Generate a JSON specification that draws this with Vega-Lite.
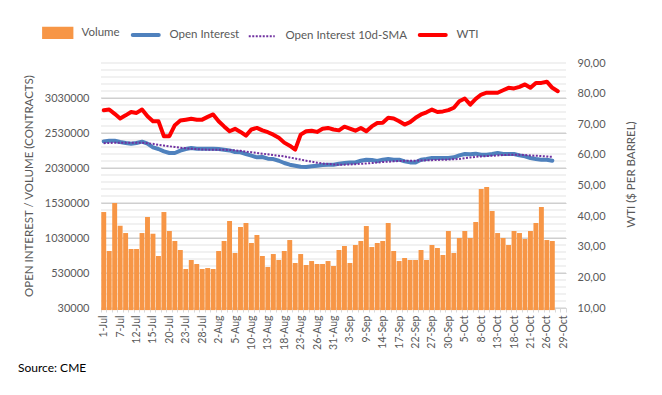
{
  "$schema": "https://vega.github.io/schema/vega-lite/v6.json",
  "width": 465,
  "height": 245,
  "autosize": {"type": "none"},
  "padding": {"left": 101, "top": 63, "right": 96, "bottom": 87},
  "background": "#ffffff",
  "config": {
    "font": "Lato",
    "view": {"stroke": null},
    "scale": {"paddingInner": 0.27, "paddingOuter": 0.135},
    "axis": {"labelColor": "#595959", "titleColor": "#595959", "labelFont": "Lato", "titleFont": "Lato"},
    "axisX": {"labelAngle": 270, "labelOverlap": false, "labelFontSize": 10.5, "labelPadding": 3, "tickBand": "extent", "ticks": true, "tickSize": 4, "tickColor": "#D9D9D9", "domain": true, "domainColor": "#D9D9D9", "grid": false}
  },
  "title": {"text": "Source: CME", "orient": "bottom", "anchor": "start", "frame": "group", "dx": -83, "offset": 14, "fontSize": 12, "fontWeight": "normal", "color": "#000000", "font": "Lato"},
  "datasets": {
    "main": [
      {"d":"1-Jul","vol":1401000,"oi":2410000,"sma":2385000,"wti":74.6},
      {"d":"2-Jul","vol":844000,"oi":2420000,"sma":2388000,"wti":74.8},
      {"d":"6-Jul","vol":1530000,"oi":2420000,"sma":2390000,"wti":73.4},
      {"d":"7-Jul","vol":1206000,"oi":2401000,"sma":2392000,"wti":71.9},
      {"d":"8-Jul","vol":1101000,"oi":2387000,"sma":2392000,"wti":72.9},
      {"d":"9-Jul","vol":873000,"oi":2377000,"sma":2390000,"wti":74.0},
      {"d":"12-Jul","vol":873000,"oi":2387000,"sma":2390000,"wti":73.7},
      {"d":"13-Jul","vol":1101000,"oi":2406000,"sma":2390000,"wti":74.8},
      {"d":"14-Jul","vol":1330000,"oi":2377000,"sma":2385000,"wti":72.6},
      {"d":"15-Jul","vol":1091000,"oi":2324000,"sma":2375000,"wti":71.0},
      {"d":"16-Jul","vol":773000,"oi":2301000,"sma":2360000,"wti":71.0},
      {"d":"19-Jul","vol":1401000,"oi":2267000,"sma":2350000,"wti":66.1},
      {"d":"20-Jul","vol":1130000,"oi":2244000,"sma":2340000,"wti":66.1},
      {"d":"21-Jul","vol":987000,"oi":2244000,"sma":2330000,"wti":69.7},
      {"d":"22-Jul","vol":859000,"oi":2277000,"sma":2320000,"wti":71.2},
      {"d":"23-Jul","vol":587000,"oi":2301000,"sma":2312000,"wti":71.5},
      {"d":"26-Jul","vol":716000,"oi":2316000,"sma":2305000,"wti":71.8},
      {"d":"27-Jul","vol":659000,"oi":2306000,"sma":2300000,"wti":71.5},
      {"d":"28-Jul","vol":587000,"oi":2306000,"sma":2295000,"wti":71.5},
      {"d":"29-Jul","vol":601000,"oi":2306000,"sma":2292000,"wti":72.4},
      {"d":"30-Jul","vol":587000,"oi":2306000,"sma":2290000,"wti":73.2},
      {"d":"2-Aug","vol":844000,"oi":2301000,"sma":2290000,"wti":71.0},
      {"d":"3-Aug","vol":987000,"oi":2291000,"sma":2290000,"wti":69.3},
      {"d":"4-Aug","vol":1273000,"oi":2281000,"sma":2288000,"wti":67.7},
      {"d":"5-Aug","vol":816000,"oi":2259000,"sma":2282000,"wti":68.5},
      {"d":"6-Aug","vol":1187000,"oi":2254000,"sma":2275000,"wti":67.5},
      {"d":"9-Aug","vol":1244000,"oi":2230000,"sma":2265000,"wti":66.3},
      {"d":"10-Aug","vol":959000,"oi":2206000,"sma":2255000,"wti":68.3},
      {"d":"11-Aug","vol":1073000,"oi":2182000,"sma":2245000,"wti":68.8},
      {"d":"12-Aug","vol":773000,"oi":2187000,"sma":2235000,"wti":68.0},
      {"d":"13-Aug","vol":616000,"oi":2163000,"sma":2225000,"wti":67.4},
      {"d":"16-Aug","vol":801000,"oi":2158000,"sma":2215000,"wti":66.6},
      {"d":"17-Aug","vol":716000,"oi":2134000,"sma":2205000,"wti":65.6},
      {"d":"18-Aug","vol":844000,"oi":2101000,"sma":2195000,"wti":64.0},
      {"d":"19-Aug","vol":1001000,"oi":2077000,"sma":2180000,"wti":63.0},
      {"d":"20-Aug","vol":673000,"oi":2063000,"sma":2165000,"wti":61.7},
      {"d":"23-Aug","vol":801000,"oi":2049000,"sma":2150000,"wti":66.6},
      {"d":"24-Aug","vol":644000,"oi":2044000,"sma":2135000,"wti":67.7},
      {"d":"25-Aug","vol":701000,"oi":2054000,"sma":2120000,"wti":67.9},
      {"d":"26-Aug","vol":659000,"oi":2063000,"sma":2105000,"wti":67.5},
      {"d":"27-Aug","vol":659000,"oi":2073000,"sma":2095000,"wti":68.5},
      {"d":"30-Aug","vol":701000,"oi":2077000,"sma":2088000,"wti":68.8},
      {"d":"31-Aug","vol":630000,"oi":2077000,"sma":2080000,"wti":68.3},
      {"d":"1-Sep","vol":859000,"oi":2091000,"sma":2078000,"wti":68.0},
      {"d":"2-Sep","vol":916000,"oi":2101000,"sma":2078000,"wti":69.2},
      {"d":"3-Sep","vol":673000,"oi":2110000,"sma":2080000,"wti":68.6},
      {"d":"7-Sep","vol":930000,"oi":2110000,"sma":2085000,"wti":67.9},
      {"d":"8-Sep","vol":987000,"oi":2134000,"sma":2090000,"wti":68.8},
      {"d":"9-Sep","vol":1201000,"oi":2149000,"sma":2095000,"wti":67.7},
      {"d":"10-Sep","vol":901000,"oi":2144000,"sma":2100000,"wti":69.3},
      {"d":"13-Sep","vol":959000,"oi":2130000,"sma":2108000,"wti":70.4},
      {"d":"14-Sep","vol":987000,"oi":2149000,"sma":2115000,"wti":70.5},
      {"d":"15-Sep","vol":1244000,"oi":2158000,"sma":2120000,"wti":72.1},
      {"d":"16-Sep","vol":844000,"oi":2149000,"sma":2125000,"wti":71.9},
      {"d":"17-Sep","vol":701000,"oi":2149000,"sma":2130000,"wti":71.0},
      {"d":"20-Sep","vol":744000,"oi":2125000,"sma":2132000,"wti":69.9},
      {"d":"21-Sep","vol":716000,"oi":2110000,"sma":2133000,"wti":70.7},
      {"d":"22-Sep","vol":716000,"oi":2110000,"sma":2135000,"wti":72.1},
      {"d":"23-Sep","vol":859000,"oi":2149000,"sma":2137000,"wti":73.2},
      {"d":"24-Sep","vol":716000,"oi":2158000,"sma":2140000,"wti":73.9},
      {"d":"27-Sep","vol":930000,"oi":2173000,"sma":2142000,"wti":74.8},
      {"d":"28-Sep","vol":887000,"oi":2173000,"sma":2145000,"wti":74.0},
      {"d":"29-Sep","vol":787000,"oi":2173000,"sma":2148000,"wti":74.2},
      {"d":"30-Sep","vol":1130000,"oi":2173000,"sma":2150000,"wti":74.6},
      {"d":"1-Oct","vol":816000,"oi":2182000,"sma":2155000,"wti":75.4},
      {"d":"4-Oct","vol":1030000,"oi":2210000,"sma":2160000,"wti":77.5},
      {"d":"5-Oct","vol":1130000,"oi":2230000,"sma":2170000,"wti":78.4},
      {"d":"6-Oct","vol":1030000,"oi":2228000,"sma":2180000,"wti":76.4},
      {"d":"7-Oct","vol":1259000,"oi":2235000,"sma":2190000,"wti":78.3},
      {"d":"8-Oct","vol":1730000,"oi":2220000,"sma":2196000,"wti":79.7},
      {"d":"11-Oct","vol":1759000,"oi":2220000,"sma":2200000,"wti":80.3},
      {"d":"12-Oct","vol":1416000,"oi":2230000,"sma":2205000,"wti":80.3},
      {"d":"13-Oct","vol":1101000,"oi":2244000,"sma":2210000,"wti":80.3},
      {"d":"14-Oct","vol":1030000,"oi":2230000,"sma":2215000,"wti":81.1},
      {"d":"15-Oct","vol":930000,"oi":2230000,"sma":2218000,"wti":81.9},
      {"d":"18-Oct","vol":1130000,"oi":2230000,"sma":2220000,"wti":81.7},
      {"d":"19-Oct","vol":1101000,"oi":2210000,"sma":2220000,"wti":82.2},
      {"d":"20-Oct","vol":1016000,"oi":2196000,"sma":2215000,"wti":83.0},
      {"d":"21-Oct","vol":1130000,"oi":2173000,"sma":2210000,"wti":81.9},
      {"d":"22-Oct","vol":1244000,"oi":2158000,"sma":2205000,"wti":83.5},
      {"d":"25-Oct","vol":1473000,"oi":2149000,"sma":2200000,"wti":83.5},
      {"d":"26-Oct","vol":1001000,"oi":2149000,"sma":2195000,"wti":83.9},
      {"d":"27-Oct","vol":987000,"oi":2134000,"sma":2190000,"wti":81.9},
      {"d":"28-Oct","wti":80.8}
    ],
    "gridMinor": [
      {"g":130000},{"g":230000},{"g":330000},{"g":430000},{"g":630000},{"g":730000},{"g":830000},{"g":930000},
      {"g":1130000},{"g":1230000},{"g":1330000},{"g":1430000},{"g":1630000},{"g":1730000},{"g":1830000},{"g":1930000},
      {"g":2130000},{"g":2230000},{"g":2330000},{"g":2430000},{"g":2630000},{"g":2730000},{"g":2830000},{"g":2930000},
      {"g":3130000},{"g":3230000},{"g":3330000},{"g":3430000},{"g":3530000}
    ],
    "gridMajor": [
      {"g":30000},{"g":530000},{"g":1030000},{"g":1530000},{"g":2030000},{"g":2530000},{"g":3030000}
    ]
  },
  "data": {"name": "main"},
  "layer": [
    {
      "encoding": {
        "y": {
          "type": "quantitative",
          "scale": {"domain": [30000, 3530000], "nice": false, "zero": false},
          "axis": {
            "title": "OPEN INTEREST / VOLUME (CONTRACTS)",
            "titleFontSize": 11.5, "titleFontWeight": "normal", "titlePadding": 10,
            "values": [30000,530000,1030000,1530000,2030000,2530000,3030000],
            "format": "d",
            "labelFontSize": 11,
            "labelPadding": 12,
            "labelOverlap": false,
            "labelBound": false,
            "ticks": false,
            "domain": false,
            "grid": true,
            "gridColor": "#CFCFCF"
          }
        }
      },
      "layer": [
        {
          "data": {"name": "gridMinor"},
          "mark": {"type": "rule", "color": "#E3E3E3", "strokeWidth": 1},
          "encoding": {"y": {"field": "g"}}
        },
        {
          "data": {"name": "gridMajor"},
          "mark": {"type": "rule", "color": "#CFCFCF", "strokeWidth": 1},
          "encoding": {"y": {"field": "g"}}
        },
        {
          "mark": {"type": "bar", "color": "#F79646"},
          "encoding": {
            "x": {
              "field": "d", "type": "ordinal",
              "scale": {"domain": ["1-Jul","2-Jul","6-Jul","7-Jul","8-Jul","9-Jul","12-Jul","13-Jul","14-Jul","15-Jul","16-Jul","19-Jul","20-Jul","21-Jul","22-Jul","23-Jul","26-Jul","27-Jul","28-Jul","29-Jul","30-Jul","2-Aug","3-Aug","4-Aug","5-Aug","6-Aug","9-Aug","10-Aug","11-Aug","12-Aug","13-Aug","16-Aug","17-Aug","18-Aug","19-Aug","20-Aug","23-Aug","24-Aug","25-Aug","26-Aug","27-Aug","30-Aug","31-Aug","1-Sep","2-Sep","3-Sep","7-Sep","8-Sep","9-Sep","10-Sep","13-Sep","14-Sep","15-Sep","16-Sep","17-Sep","20-Sep","21-Sep","22-Sep","23-Sep","24-Sep","27-Sep","28-Sep","29-Sep","30-Sep","1-Oct","4-Oct","5-Oct","6-Oct","7-Oct","8-Oct","11-Oct","12-Oct","13-Oct","14-Oct","15-Oct","18-Oct","19-Oct","20-Oct","21-Oct","22-Oct","25-Oct","26-Oct","27-Oct","28-Oct","29-Oct"]},
              "axis": {"title": null, "labelExpr": "indexof(['1-Jul','7-Jul','12-Jul','15-Jul','20-Jul','23-Jul','28-Jul','2-Aug','5-Aug','10-Aug','13-Aug','18-Aug','23-Aug','26-Aug','31-Aug','3-Sep','9-Sep','14-Sep','17-Sep','22-Sep','27-Sep','30-Sep','5-Oct','8-Oct','13-Oct','18-Oct','21-Oct','26-Oct','29-Oct'], datum.value) >= 0 ? datum.value : ''"}
            },
            "y": {"field": "vol"},
            "color": {
              "datum": "Volume", "type": "nominal",
              "scale": {"domain": ["Volume", "Open Interest", "Open Interest 10d-SMA", "WTI"], "range": ["#F79646", "#4F81BD", "#7030A0", "#FF0000"]},
              "legend": {
                "title": null,
                "orient": "none",
                "direction": "horizontal",
                "legendX": -49,
                "legendY": -36,
                "padding": 0,
                "labelFontSize": 11.5,
                "labelColor": "#595959",
                "labelFont": "Lato",
                "symbolSize": 676,
                "labelOffset": 18,
                "columnPadding": 4,
                "encode": {
                  "symbols": {
                    "update": {
                      "shape": {"signal": "datum.value === 'Volume' ? 'M-1.05,-0.31H1.05V0.31H-1.05Z' : 'stroke'"},
                      "fill": {"signal": "datum.value === 'Volume' ? '#F79646' : 'transparent'"},
                      "stroke": {"signal": "datum.value === 'Volume' ? 'transparent' : datum.value === 'Open Interest' ? '#4F81BD' : datum.value === 'WTI' ? '#FF0000' : '#7030A0'"},
                      "strokeWidth": {"signal": "datum.value === 'Open Interest 10d-SMA' ? 2 : 4"},
                      "strokeDash": {"signal": "datum.value === 'Open Interest 10d-SMA' ? [2, 1.5] : [1, 0]"},
                      "strokeCap": {"signal": "datum.value === 'Open Interest 10d-SMA' ? 'butt' : 'round'"},
                      "opacity": {"value": 1}
                    }
                  }
                }
              }
            }
          }
        },
        {
          "mark": {"type": "line", "color": "#4F81BD", "strokeWidth": 4, "strokeJoin": "round", "strokeCap": "round"},
          "encoding": {
            "x": {
              "field": "d", "type": "ordinal",
              "scale": {"domain": ["1-Jul","2-Jul","6-Jul","7-Jul","8-Jul","9-Jul","12-Jul","13-Jul","14-Jul","15-Jul","16-Jul","19-Jul","20-Jul","21-Jul","22-Jul","23-Jul","26-Jul","27-Jul","28-Jul","29-Jul","30-Jul","2-Aug","3-Aug","4-Aug","5-Aug","6-Aug","9-Aug","10-Aug","11-Aug","12-Aug","13-Aug","16-Aug","17-Aug","18-Aug","19-Aug","20-Aug","23-Aug","24-Aug","25-Aug","26-Aug","27-Aug","30-Aug","31-Aug","1-Sep","2-Sep","3-Sep","7-Sep","8-Sep","9-Sep","10-Sep","13-Sep","14-Sep","15-Sep","16-Sep","17-Sep","20-Sep","21-Sep","22-Sep","23-Sep","24-Sep","27-Sep","28-Sep","29-Sep","30-Sep","1-Oct","4-Oct","5-Oct","6-Oct","7-Oct","8-Oct","11-Oct","12-Oct","13-Oct","14-Oct","15-Oct","18-Oct","19-Oct","20-Oct","21-Oct","22-Oct","25-Oct","26-Oct","27-Oct","28-Oct","29-Oct"]},
              "axis": {"title": null, "labelExpr": "indexof(['1-Jul','7-Jul','12-Jul','15-Jul','20-Jul','23-Jul','28-Jul','2-Aug','5-Aug','10-Aug','13-Aug','18-Aug','23-Aug','26-Aug','31-Aug','3-Sep','9-Sep','14-Sep','17-Sep','22-Sep','27-Sep','30-Sep','5-Oct','8-Oct','13-Oct','18-Oct','21-Oct','26-Oct','29-Oct'], datum.value) >= 0 ? datum.value : ''"}
            },
            "y": {"field": "oi"},
            "color": {"datum": "Open Interest", "type": "nominal"}
          }
        },
        {
          "mark": {"type": "line", "color": "#7030A0", "strokeWidth": 2, "strokeDash": [2, 1.5]},
          "encoding": {
            "x": {
              "field": "d", "type": "ordinal",
              "scale": {"domain": ["1-Jul","2-Jul","6-Jul","7-Jul","8-Jul","9-Jul","12-Jul","13-Jul","14-Jul","15-Jul","16-Jul","19-Jul","20-Jul","21-Jul","22-Jul","23-Jul","26-Jul","27-Jul","28-Jul","29-Jul","30-Jul","2-Aug","3-Aug","4-Aug","5-Aug","6-Aug","9-Aug","10-Aug","11-Aug","12-Aug","13-Aug","16-Aug","17-Aug","18-Aug","19-Aug","20-Aug","23-Aug","24-Aug","25-Aug","26-Aug","27-Aug","30-Aug","31-Aug","1-Sep","2-Sep","3-Sep","7-Sep","8-Sep","9-Sep","10-Sep","13-Sep","14-Sep","15-Sep","16-Sep","17-Sep","20-Sep","21-Sep","22-Sep","23-Sep","24-Sep","27-Sep","28-Sep","29-Sep","30-Sep","1-Oct","4-Oct","5-Oct","6-Oct","7-Oct","8-Oct","11-Oct","12-Oct","13-Oct","14-Oct","15-Oct","18-Oct","19-Oct","20-Oct","21-Oct","22-Oct","25-Oct","26-Oct","27-Oct","28-Oct","29-Oct"]},
              "axis": {"title": null, "labelExpr": "indexof(['1-Jul','7-Jul','12-Jul','15-Jul','20-Jul','23-Jul','28-Jul','2-Aug','5-Aug','10-Aug','13-Aug','18-Aug','23-Aug','26-Aug','31-Aug','3-Sep','9-Sep','14-Sep','17-Sep','22-Sep','27-Sep','30-Sep','5-Oct','8-Oct','13-Oct','18-Oct','21-Oct','26-Oct','29-Oct'], datum.value) >= 0 ? datum.value : ''"}
            },
            "y": {"field": "sma"},
            "color": {"datum": "Open Interest 10d-SMA", "type": "nominal"}
          }
        }
      ]
    },
    {
      "mark": {"type": "line", "color": "#FF0000", "strokeWidth": 4, "strokeJoin": "round", "strokeCap": "round"},
      "encoding": {
        "x": {
          "field": "d", "type": "ordinal",
          "scale": {"domain": ["1-Jul","2-Jul","6-Jul","7-Jul","8-Jul","9-Jul","12-Jul","13-Jul","14-Jul","15-Jul","16-Jul","19-Jul","20-Jul","21-Jul","22-Jul","23-Jul","26-Jul","27-Jul","28-Jul","29-Jul","30-Jul","2-Aug","3-Aug","4-Aug","5-Aug","6-Aug","9-Aug","10-Aug","11-Aug","12-Aug","13-Aug","16-Aug","17-Aug","18-Aug","19-Aug","20-Aug","23-Aug","24-Aug","25-Aug","26-Aug","27-Aug","30-Aug","31-Aug","1-Sep","2-Sep","3-Sep","7-Sep","8-Sep","9-Sep","10-Sep","13-Sep","14-Sep","15-Sep","16-Sep","17-Sep","20-Sep","21-Sep","22-Sep","23-Sep","24-Sep","27-Sep","28-Sep","29-Sep","30-Sep","1-Oct","4-Oct","5-Oct","6-Oct","7-Oct","8-Oct","11-Oct","12-Oct","13-Oct","14-Oct","15-Oct","18-Oct","19-Oct","20-Oct","21-Oct","22-Oct","25-Oct","26-Oct","27-Oct","28-Oct","29-Oct"]},
          "axis": {"title": null, "labelExpr": "indexof(['1-Jul','7-Jul','12-Jul','15-Jul','20-Jul','23-Jul','28-Jul','2-Aug','5-Aug','10-Aug','13-Aug','18-Aug','23-Aug','26-Aug','31-Aug','3-Sep','9-Sep','14-Sep','17-Sep','22-Sep','27-Sep','30-Sep','5-Oct','8-Oct','13-Oct','18-Oct','21-Oct','26-Oct','29-Oct'], datum.value) >= 0 ? datum.value : ''"}
        },
        "y": {
          "field": "wti", "type": "quantitative",
          "scale": {"domain": [10, 90], "nice": false, "zero": false},
          "axis": {
            "orient": "right",
            "title": "WTI ($ PER BARREL)",
            "titleAngle": 270,
            "titleY": 111,
            "titleFontSize": 11.5, "titleFontWeight": "normal", "titlePadding": 31,
            "values": [10,20,30,40,50,60,70,80,90],
            "labelExpr": "replace(format(datum.value, '.2f'), '.', ',')",
            "labelFontSize": 11,
            "labelPadding": 11,
            "ticks": false,
            "domain": false,
            "grid": false
          }
        },
        "color": {"datum": "WTI", "type": "nominal"}
      }
    }
  ],
  "resolve": {"scale": {"y": "independent"}}
}
